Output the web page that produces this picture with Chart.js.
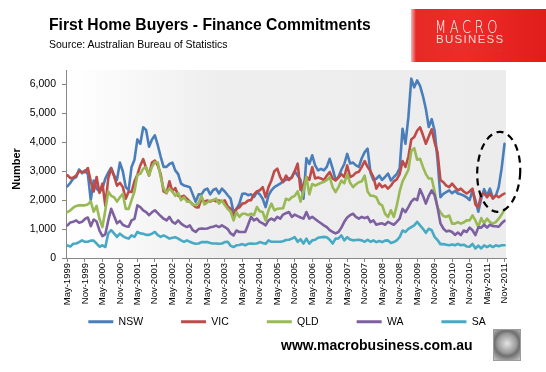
<!DOCTYPE html>
<html>
<head>
<meta charset="utf-8">
<script src="https://cdn.jsdelivr.net/npm/chart.js@4.4.0/dist/chart.umd.min.js"></script>
<style>
html,body{margin:0;padding:0;background:#fff;}
#wrap{position:relative;width:546px;height:372px;overflow:hidden;background:#fff;}
#c{position:absolute;left:0;top:0;}
.txt{position:absolute;white-space:nowrap;line-height:1;color:#000;font-family:"Liberation Sans",Arial,sans-serif;}
#title{left:49px;top:16.7px;font-size:15.7px;font-weight:bold;}
#sub{left:49px;top:38.6px;font-size:10.5px;}
#ytitle{left:-12px;top:162px;width:60px;height:14px;text-align:center;font-size:11px;font-weight:bold;transform:rotate(-90deg);}
#url{left:281px;top:338px;font-size:14px;font-weight:bold;}
#logo{position:absolute;left:411px;top:9px;width:135px;height:53px;
  background:linear-gradient(to right,#f4b8b8 0px,#e62a27 5px,#ef2b28 40%,#e11d1b 100%);}
#logo .m{position:absolute;left:24px;top:9px;font-family:"DejaVu Sans","Liberation Sans",sans-serif;font-weight:200;font-size:18px;letter-spacing:5px;color:#fff;transform:scaleX(0.72);transform-origin:left top;line-height:1;}
#logo .b{position:absolute;left:25px;top:25px;font-family:"Liberation Sans",sans-serif;font-size:11.5px;letter-spacing:1.3px;color:#f9d4d4;line-height:1;}
#logo .s{position:absolute;left:26px;top:37px;font-family:"Liberation Sans",sans-serif;font-size:6px;letter-spacing:3.4px;color:#cf3c3a;line-height:1;}
#wolf{position:absolute;left:493px;top:329px;width:26px;height:30px;border:1px solid #9c9c9c;
  background:radial-gradient(circle at 50% 45%,#e4e4e4 0,#9a9a9a 45%,#6f6f6f 60%,#c8c8c8 100%);}
</style>
</head>
<body>
<div id="wrap">
<canvas id="c" width="546" height="372"></canvas>
<div id="title" class="txt">First Home Buyers - Finance Commitments</div>
<div id="sub" class="txt">Source: Australian Bureau of Statistics</div>
<div id="ytitle" class="txt">Number</div>
<div id="url" class="txt">www.macrobusiness.com.au</div>
<div id="logo"><div class="m">MACRO</div><div class="b">BUSINESS</div><div class="s">SUPERBLOG</div></div>
<div id="wolf"></div>
</div>
<script>
const monthNames = ['Jan','Feb','Mar','Apr','May','Jun','Jul','Aug','Sep','Oct','Nov','Dec'];

const tickLabels = ['May-1999','Nov-1999','May-2000','Nov-2000','May-2001','Nov-2001','May-2002','Nov-2002',
  'May-2003','Nov-2003','May-2004','Nov-2004','May-2005','Nov-2005','May-2006','Nov-2006','May-2007','Nov-2007',
  'May-2008','Nov-2008','May-2009','Nov-2009','May-2010','Nov-2010','May-2011','Nov-2011'];

const yTickValues = [0, 1000, 2000, 3000, 4000, 5000, 6000];

const nsw = [
2480,2600,2750,2800,3060,2930,3030,2900,2000,2680,
2400,2300,2400,2750,2950,3120,2850,2700,3300,3000,
2450,2350,3150,3400,4100,3950,4520,4420,3850,4100,
4240,3900,3500,3150,3150,3250,3300,3030,2900,2570,
2510,2480,2450,2200,1940,2200,2200,2350,2400,2200,
2350,2400,2230,2400,2300,2170,2050,1590,1700,1880,
2220,2230,2170,2200,2110,2280,2200,2050,1760,2170,
2340,2450,2510,2570,2650,2700,2740,2800,3000,2850,
2700,2050,3450,3250,3550,3200,3030,3080,3030,3150,
3430,3100,2700,2800,3050,3250,3600,3270,3300,3200,
3150,3450,3660,3780,2950,2700,2740,2850,2700,2800,
2920,2680,2800,2900,3100,4470,3950,4870,6200,5900,
6140,5950,5600,5150,4530,4800,4400,3400,2100,2220,
2280,2340,2240,2320,2230,2200,2160,2100,2000,2330,
2000,1600,2050,2380,2150,2400,2080,2150,2450,3100,3950];

const vic = [
2860,2760,2780,2850,3000,2980,2970,3110,2650,2300,
2800,2250,2570,1800,2750,3090,2830,2500,2600,2450,
2050,2300,2280,2650,2880,3200,3420,3100,2850,3300,
3370,3200,2900,2300,2240,2650,2300,2420,2150,2110,
2150,2050,1950,1850,1760,1750,2050,1950,1990,1950,
2000,1960,1990,1950,1990,1780,1700,1420,1700,1750,
1880,1900,1990,2000,2200,2300,2340,2450,2100,2450,
2680,3000,3090,2800,2620,2850,2700,2780,3000,3260,
2350,2550,2800,2700,3140,2750,2780,2750,2690,2850,
2970,2750,2680,2780,2900,2800,3200,2800,2850,2950,
2980,3150,3350,3150,3000,2800,2400,2570,2450,2510,
2400,2500,2650,2720,2900,3350,3150,3500,4100,4180,
4400,4520,4250,3950,4200,4450,4000,3650,2700,2620,
2500,2450,2570,2450,2340,2400,2300,2230,2300,2400,
1850,1750,2200,2230,2100,2230,2050,2170,2100,2170,2230];

const qld = [
1590,1650,1740,1800,1820,1820,1820,1850,1960,1600,
1800,1350,1070,1650,2300,2150,2100,1950,2100,2220,
1700,1700,2000,2300,2880,2910,3090,3140,2860,3150,
3320,3300,2800,2400,2250,2400,2300,2150,2250,2000,
2100,1950,1950,1850,1820,1900,2150,1850,1920,1980,
2000,2050,1880,1990,1830,1700,1600,1300,1580,1420,
1530,1530,1480,1530,1480,1760,1620,1590,1300,1650,
1880,1650,1700,1710,1720,2050,2000,2100,2150,2300,
1950,2300,2800,2200,2560,2500,2550,2600,2630,2690,
2800,2450,2280,2450,2680,2580,2900,2600,2450,2550,
2620,2650,2850,2300,2150,2150,2100,1880,1820,1530,
1420,1650,1420,1800,2300,2650,2850,3050,3700,3800,
3400,3430,3150,2900,2750,2750,2300,1750,1580,1450,
1420,1470,1190,1190,1240,1190,1230,1300,1300,1470,
1300,1070,1380,1200,1360,1240,1190,1240,1360,1500,1680];

const wa = [
1130,1230,1250,1300,1220,1250,1350,1400,1100,1330,
1260,950,760,820,1300,1700,1450,1200,1280,1150,
1100,1080,1300,1350,1820,1760,1650,1590,1480,1580,
1650,1550,1450,1360,1300,1420,1250,1190,1300,1190,
1120,1070,1130,960,900,1000,1020,1010,1020,1060,
1080,1120,1070,1130,1070,1000,850,780,950,900,
900,900,1150,1420,1300,1360,1250,1200,1130,1300,
1360,1300,1420,1360,1500,1550,1590,1420,1500,1450,
1400,1360,1590,1360,1420,1350,1270,1200,1130,1070,
960,900,850,900,1050,1250,1400,1480,1530,1420,
1360,1420,1380,1420,1240,1300,1150,1180,1200,1150,
1250,1200,1150,1250,1360,1700,1590,1760,1950,2050,
2000,2380,2150,1880,2150,2340,2170,1750,1200,1020,
920,940,900,800,880,790,950,900,1050,960,
790,1060,1050,1150,1050,1150,1100,1100,1080,1200,1290];

const sa = [
430,400,490,500,550,610,560,560,600,600,
500,390,440,380,850,960,850,730,840,760,
700,670,780,730,900,850,840,800,800,840,
900,790,730,780,730,670,700,720,670,610,
560,610,560,520,490,500,550,550,550,520,
500,500,490,500,550,560,420,380,440,450,
480,440,490,500,490,500,550,520,490,610,
560,560,560,560,580,620,630,670,720,560,
650,500,670,500,610,630,700,720,730,720,
630,500,670,680,780,610,720,640,610,620,
630,610,560,630,560,610,550,590,550,600,
610,520,550,610,720,950,900,1010,1070,1130,
1250,1130,1010,870,1010,960,730,620,480,480,
460,440,470,440,490,440,460,400,390,490,
330,430,330,440,380,440,380,440,410,440,440];

// monthly categories, May 1999 onwards
const categories = [];
for (let k = 0; k < nsw.length; k++) {
  const m = (4 + k) % 12;
  const y = 1999 + Math.floor((4 + k) / 12);
  categories.push(monthNames[m] + '-' + y);
}
const tickSet = new Set(tickLabels);

const FONT = '"Liberation Sans", Arial, sans-serif';

const bgPlugin = {
  id: 'plotBg',
  beforeDraw(chart) {
    const {ctx, chartArea: a} = chart;
    const g = ctx.createLinearGradient(a.left, 0, a.right, 0);
    g.addColorStop(0, '#ffffff');
    g.addColorStop(0.35, '#eeeeee');
    g.addColorStop(1, '#ececec');
    ctx.save();
    ctx.fillStyle = g;
    ctx.fillRect(a.left, a.top, a.right - a.left, a.bottom - a.top);
    ctx.restore();
  }
};

// place legend row just below the rotated date labels
const legendGap = 20.5;
const legendNudge = {
  id: 'legendNudge',
  afterLayout(chart) {
    if (chart.legend) chart.legend.top = chart.chartArea.bottom + legendGap;
  }
};

const highlight = {index: 148, value: 2980, rx: 21.5, ry: 40};
const ellipsePlugin = {
  id: 'ellipse',
  afterDraw(chart) {
    const {ctx, scales} = chart;
    const cx = scales.x.getPixelForValue(highlight.index);
    const cy = scales.y.getPixelForValue(highlight.value);
    ctx.save();
    ctx.strokeStyle = '#000';
    ctx.lineWidth = 2.2;
    ctx.setLineDash([7, 5]);
    ctx.beginPath();
    ctx.ellipse(cx, cy, highlight.rx, highlight.ry, 0.04, 0, Math.PI * 2);
    ctx.stroke();
    ctx.restore();
  }
};

const series = [
  {label: 'NSW', data: nsw, color: '#4A7EBB'},
  {label: 'VIC', data: vic, color: '#BE4B48'},
  {label: 'QLD', data: qld, color: '#98B954'},
  {label: 'WA',  data: wa,  color: '#7D60A0'},
  {label: 'SA',  data: sa,  color: '#46AAC5'}
];

new Chart(document.getElementById('c'), {
  type: 'line',
  data: {
    labels: categories,
    datasets: series.map((s, i) => ({
      label: s.label, data: s.data,
      borderColor: s.color, backgroundColor: s.color,
      borderWidth: 2.6, pointRadius: 0, tension: 0,
      borderJoinStyle: 'round', borderCapStyle: 'round',
      order: series.length - 1 - i
    }))
  },
  options: {
    responsive: false, animation: false, devicePixelRatio: 1,
    layout: {padding: {left: 28, right: 0, top: 70, bottom: 5.5}},
    plugins: {
      tooltip: {enabled: false},
      legend: {
        position: 'bottom',
        labels: {
          boxWidth: 25, boxHeight: 3, padding: 38, color: '#000',
          font: {family: FONT, size: 10.5},
          sort: (a, b) => a.datasetIndex - b.datasetIndex,
          generateLabels: chart => Chart.defaults.plugins.legend.labels.generateLabels(chart)
            .map(l => Object.assign(l, {lineWidth: 0}))
        }
      }
    },
    scales: {
      x: {
        offset: true,
        grid: {display: true, drawOnChartArea: false, drawTicks: true, tickLength: 4, color: '#868686', offset: false},
        border: {display: true, color: '#868686', width: 1},
        afterBuildTicks: s => { s.ticks = s.ticks.filter(t => tickSet.has(categories[t.value])); },
        ticks: {autoSkip: false, maxRotation: 90, minRotation: 90, padding: 1, color: '#000',
          font: {family: FONT, size: 9.5}},
        afterFit: s => { s.height = 50; }
      },
      y: {
        min: 0, max: 6500,
        afterBuildTicks: s => { s.ticks = yTickValues.map(v => ({value: v})); },
        ticks: {autoSkip: false, padding: 6, color: '#000', font: {family: FONT, size: 10.5}},
        grid: {display: true, drawOnChartArea: false, drawTicks: true, tickLength: 4, color: '#868686'},
        border: {display: true, color: '#868686', width: 1},
        afterFit: s => { s.width = 38; }
      },
      yRightSpace: {
        position: 'right', display: true,
        ticks: {display: false}, grid: {display: false}, border: {display: false},
        afterFit: s => { s.width = 40; }
      }
    }
  },
  plugins: [bgPlugin, legendNudge, ellipsePlugin]
});
</script>
</body>
</html>
